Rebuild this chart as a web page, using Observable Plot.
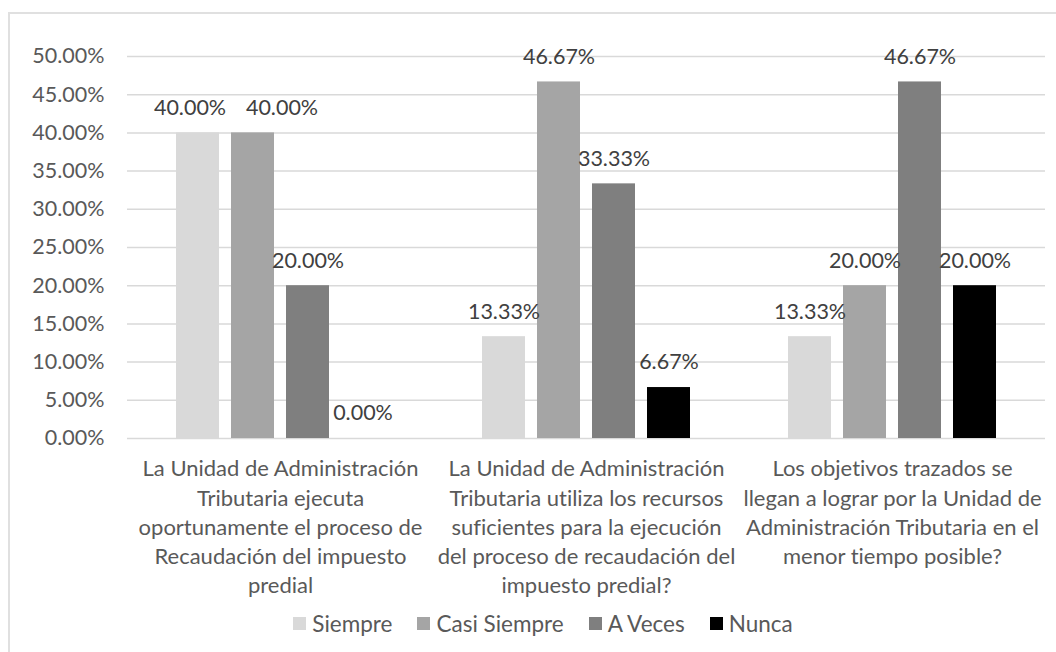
<!DOCTYPE html>
<html>
<head>
<meta charset="utf-8">
<script src="https://cdn.jsdelivr.net/npm/d3@7"></script>
<script src="https://cdn.jsdelivr.net/npm/@observablehq/plot@0.6"></script>
<style>
  html, body { margin: 0; padding: 0; background: #fff; }
  body { width: 1056px; height: 652px; overflow: hidden; position: relative; font-family: Lato, sans-serif; font-variant-ligatures: none; font-feature-settings: "liga" 0, "clig" 0; }
  svg text { font-variant-ligatures: none; font-feature-settings: "liga" 0, "clig" 0; }
  #frame { position: absolute; left: 8px; top: 12px; width: 2000px; height: 2000px; border: 2px solid #e0e0e0; pointer-events: none; }
  #chart { position: absolute; left: 0; top: 0; }
  #legend { position: absolute; left: 0; top: 606px; width: 1056px; height: 34px; box-sizing: border-box; padding-left: 30px; display: flex; justify-content: center; align-items: center; font-size: 22.5px; color: #595959; }
  .item { display: flex; align-items: center; margin: 0 12.5px; }
  .sw { width: 13px; height: 13px; margin-right: 6px; }
</style>
</head>
<body>
<div id="frame"></div>
<div id="chart"></div>
<div id="legend"></div>
<script>
const categories = [
  "La Unidad de Administración\nTributaria ejecuta\noportunamente el proceso de\nRecaudación del impuesto\npredial",
  "La Unidad de Administración\nTributaria utiliza los recursos\nsuficientes para la ejecución\ndel proceso de recaudación del\nimpuesto predial?",
  "Los objetivos trazados se\nllegan a lograr por la Unidad de\nAdministración Tributaria en el\nmenor tiempo posible?"
];
const series = ["Siempre", "Casi Siempre", "A Veces", "Nunca"];
const siempre = [0.40, 0.1333, 0.1333];
const casiSiempre = [0.40, 0.4667, 0.20];
const aVeces = [0.20, 0.3333, 0.4667];
const nunca = [0.00, 0.0667, 0.20];
const colors = ["#d9d9d9", "#a5a5a5", "#7f7f7f", "#000000"];
const yTicks = [0, 0.05, 0.10, 0.15, 0.20, 0.25, 0.30, 0.35, 0.40, 0.45, 0.50];

const valuesBySeries = [siempre, casiSiempre, aVeces, nunca];
const data = [];
categories.forEach((c, i) => {
  series.forEach((s, j) => {
    data.push({category: c, series: s, value: valuesBySeries[j][i]});
  });
});
const fmt = d3.format(".2%");

// Excel nudged the two overlapping labels in the first group
const shiftedLeft = data.filter(d => d.category === categories[0] && d.series === "Siempre");
const shiftedRight = data.filter(d => d.category === categories[0] && d.series === "Casi Siempre");
const normal = data.filter(d => !shiftedLeft.includes(d) && !shiftedRight.includes(d));

const labelOpts = {
  fx: "category", x: "series", y: "value", text: d => fmt(d.value),
  dy: -25, fill: "#404040", fontSize: 21.5
};

const plot = Plot.plot({
  width: 1056,
  height: 606,
  marginTop: 56,
  marginBottom: 168,
  marginLeft: 126,
  marginRight: 11,
  style: {fontFamily: "Lato, sans-serif", fontSize: "21.5px", color: "#595959", background: "transparent"},
  fx: {domain: categories, padding: 0, axis: null},
  x: {domain: series, paddingInner: 0.216, paddingOuter: 0.867, axis: null},
  y: {domain: [0, 0.5], ticks: yTicks, tickFormat: fmt, tickSize: 0, tickPadding: 23, label: null},
  color: {domain: series, range: colors},
  marks: [
    Plot.ruleY(yTicks, {stroke: "#d9d9d9", strokeWidth: 1.5}),
    Plot.barY(data, {fx: "category", x: "series", y: "value", fill: "series"}),
    Plot.text(normal, labelOpts),
    Plot.text(shiftedLeft, {...labelOpts, dx: -8}),
    Plot.text(shiftedRight, {...labelOpts, dx: 29}),
    Plot.text(categories, {fx: d => d, text: d => d, frameAnchor: "bottom", lineAnchor: "top", dy: 17, lineHeight: 1.33, fill: "#595959", fontSize: 22})
  ]
});
document.getElementById("chart").appendChild(plot);

const legend = document.getElementById("legend");
series.forEach((s, i) => {
  const item = document.createElement("div");
  item.className = "item";
  const sw = document.createElement("span");
  sw.className = "sw";
  sw.style.background = colors[i];
  const t = document.createElement("span");
  t.textContent = s;
  item.appendChild(sw);
  item.appendChild(t);
  legend.appendChild(item);
});
</script>
</body>
</html>
